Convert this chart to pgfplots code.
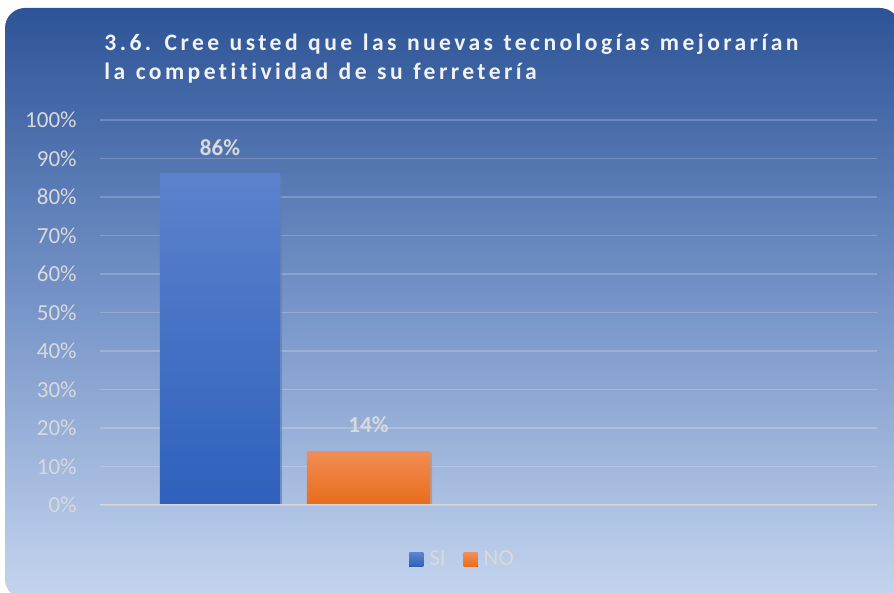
\documentclass[border=0pt]{standalone}
\usepackage{fontspec}
\setmainfont{Carlito}
\newfontfamily\titlefont[LetterSpace=14.5,WordSpace=1.2,Ligatures=CommonOff]{Carlito}
\usepackage{pgfplots}
\pgfplotsset{compat=1.18}
\usetikzlibrary{shadows}
\definecolor{bgtop}{RGB}{45,84,151}
\definecolor{bgmid}{RGB}{118,148,200}
\definecolor{bgbot}{RGB}{197,213,238}
\definecolor{sitop}{RGB}{92,130,205}
\definecolor{sibot}{RGB}{46,97,188}
\definecolor{notop}{RGB}{241,141,86}
\definecolor{nobot}{RGB}{232,108,26}
\definecolor{tickgray}{RGB}{217,217,217}
\definecolor{titlecol}{RGB}{242,242,242}
\begin{document}
\begin{tikzpicture}[x=0.5pt,y=0.5pt]
\useasboundingbox (0,0) rectangle (894,593);
\shade[top color=bgtop, bottom color=bgbot, middle color=bgmid, rounded corners=10pt] (5,-6) rectangle (900,585);
\node[anchor=base west, inner sep=0pt, text=titlecol, font=\titlefont\bfseries\fontsize{11.8}{13}\selectfont] at (104,542) {3.6. Cree usted que las nuevas tecnologías mejorarían};
\node[anchor=base west, inner sep=0pt, text=titlecol, font=\titlefont\bfseries\fontsize{11.8}{13}\selectfont] at (104,513) {la competitividad de su ferretería};
\begin{axis}[
  at={(50pt,44pt)}, anchor=south west,
  scale only axis, width=388.5pt, height=192.5pt,
  xmin=0.192, xmax=5.424, ymin=0, ymax=100,
  axis line style={draw=none},
  major tick length=0pt,
  xtick=\empty,
  ytick={0,10,...,100},
  yticklabels={0\%,10\%,20\%,30\%,40\%,50\%,60\%,70\%,80\%,90\%,100\%},
  yticklabel style={font=\fontsize{11.5}{12}\selectfont, text=tickgray, anchor=east, inner sep=0pt, xshift=-11.5pt},
  ymajorgrids,
  grid style={white, opacity=0.2, line width=0.75pt},
  legend columns=2,
  legend style={at={(0.4666,-0.1429)}, anchor=center, draw=none, fill=none,
     font=\fontsize{11.5}{12}\selectfont, text=tickgray,
     /tikz/every even column/.append style={column sep=8pt},
     /tikz/every odd column/.append style={column sep=2pt},
     nodes={inner sep=1pt, anchor=base west}},
  legend image code/.code={\fill[#1] (0pt,-0.5pt) rectangle (7pt,6.5pt);},
  every node near coord/.append style={font=\bfseries\fontsize{11.5}{12}\selectfont, text=tickgray, anchor=base, yshift=9.25pt},
]
\addplot[forget plot, ybar, bar width=0.81, bar shift=0pt, draw=none, top color=sitop, bottom color=sibot,
  drop shadow={shadow xshift=1pt, shadow yshift=-1pt, opacity=0.3},
  nodes near coords={\pgfmathprintnumber[assume math mode=true]{\pgfplotspointmeta}\%}]
  coordinates {(1,86)};
\addplot[forget plot, ybar, bar width=0.83, bar shift=0pt, draw=none, top color=notop, bottom color=nobot,
  drop shadow={shadow xshift=1pt, shadow yshift=-1pt, opacity=0.3},
  nodes near coords={\pgfmathprintnumber[assume math mode=true]{\pgfplotspointmeta}\%}]
  coordinates {(2,14)};
\addlegendimage{draw=none, top color=sitop, bottom color=sibot}
\addlegendentry{SI}
\addlegendimage{draw=none, top color=notop, bottom color=nobot}
\addlegendentry{NO}
\draw[line width=1.25pt, tickgray] (rel axis cs:0,0) -- (rel axis cs:1,0);
\end{axis}
\end{tikzpicture}
\end{document}
